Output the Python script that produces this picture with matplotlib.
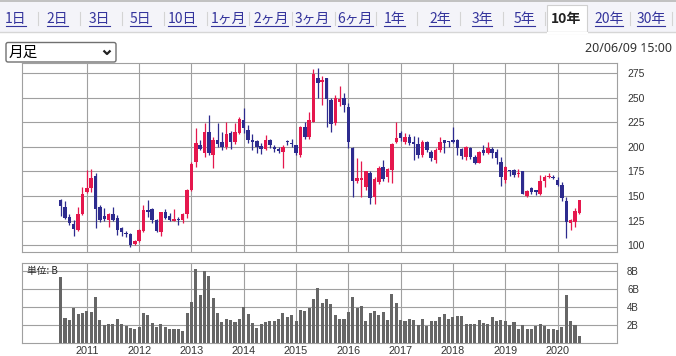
import matplotlib.pyplot as plt
from matplotlib.patches import Rectangle, FancyBboxPatch
import pandas as pd

# ====== data (monthly, 2010-07 .. 2020-06) ======
START_MONTH = "2010-07"

opens = [146, 139, 129, 121, 115, 131.5, 154, 158, 170, 139,
         129.5, 126, 132, 128, 117.5, 112.5, 111, 101, 104.5, 114,
         135.5, 137, 126, 113.5, 134, 129.5, 125, 126.5, 125.5, 131.5,
         156.5, 185, 201.5, 193.5, 215.5, 191.5, 207, 205, 199.5, 214,
         205, 214.5, 227, 217, 207, 206, 201, 198, 207.5, 200,
         197.5, 195, 206.5, 203.5, 201.5, 191.5, 220.5, 210, 225.5, 270,
         266.5, 270, 248, 224.5, 246, 249.5, 241, 198.5, 165.5, 166,
         159.5, 173, 148.5, 164.5, 180, 169.5, 176.5, 205, 214, 205,
         210, 204.5, 203, 191.5, 204.5, 195, 186.5, 197, 207, 206,
         207.5, 207.5, 197.5, 190, 198.5, 190, 184, 197, 194, 197.5,
         195, 185, 166.5, 176.5, 176.5, 172.5, 175, 150, 158, 156,
         152.5, 165.5, 169, 169.5, 166, 161, 145, 122, 123, 132.5]
highs = [146.5, 144.5, 132, 125.5, 139, 159, 176.5, 177.5, 173, 140.5,
         137.5, 132.5, 139, 130.5, 118.5, 114.5, 112, 105, 116, 140.5,
         146, 137.5, 127, 134, 136.5, 132.5, 136.5, 129, 133, 157.5,
         185, 219, 207, 224, 232.5, 210.5, 224, 215.5, 225.5, 216.5,
         224, 230, 239.5, 222.5, 213, 207, 203.5, 212, 208.5, 202,
         199.5, 202, 207.5, 208.5, 202, 221.5, 225.5, 236, 279, 280,
         272.5, 270.5, 249.5, 253, 262.5, 254.5, 244.5, 199.5, 188.5, 185.5,
         175.5, 175.5, 169.5, 180.5, 186.5, 178, 203.5, 225.5, 216, 214.5,
         213, 211, 210.5, 207.5, 206.5, 197, 198.5, 210, 207.5, 206.5,
         220.5, 208.5, 198.5, 200.5, 199.5, 191.5, 196, 202, 204.5, 200,
         197.5, 190, 180.5, 176.5, 177, 177, 175, 156, 159.5, 156,
         171.5, 171.5, 173, 171, 169.5, 164.5, 148.5, 127, 137.5, 146]
lows = [129.5, 127, 120, 109.5, 114.5, 130.5, 153.5, 154, 117, 123,
        125, 118.5, 124, 110, 109, 108.5, 97.5, 100, 103.5, 113,
        129, 122, 113.5, 109, 127, 124, 124, 120.5, 122, 128,
        155, 180, 197, 190, 191.5, 179, 200, 197, 197.5, 198,
        203, 213, 214, 204, 197, 194, 193, 197, 199, 195,
        193.5, 178, 202, 200, 192, 190, 208, 208, 225, 249.5,
        242.5, 220.5, 215, 222, 242, 236, 198.5, 148.5, 163, 148.5,
        156, 142, 141.5, 162, 165, 164.5, 163, 203.5, 206, 203,
        202, 186.5, 189, 190, 195, 186, 184, 195, 194, 199.5,
        204, 191.5, 187.5, 186.5, 187.5, 183, 183.5, 192, 193, 188.5,
        183, 160, 163, 170.5, 169, 169.5, 152, 149, 152, 151,
        151, 159, 168, 167, 160, 145, 107, 115.5, 118, 132]
closes = [140, 128, 122, 116, 132, 152.5, 158, 168, 137, 126,
          126.5, 132, 126, 115, 113.5, 111, 100, 104, 115, 135.5,
          133.5, 125.5, 114.5, 133.5, 128, 125.5, 126.5, 125.5, 131.5, 156.5,
          182.5, 203.5, 198, 215.5, 194, 207, 203, 199.5, 213, 204.5,
          215.5, 228.5, 219, 207.5, 204.5, 199.5, 197.5, 207.5, 201.5, 197.5,
          195.5, 199.5, 205, 202.5, 193.5, 220, 210, 227.5, 274.5, 265,
          268, 248.5, 223, 249.5, 249, 243, 205.5, 165.5, 168, 168,
          175, 147.5, 167.5, 179, 167.5, 177, 203, 209.5, 209.5, 210,
          203.5, 203, 191.5, 205.5, 196.5, 188.5, 197, 205.5, 204, 205,
          204.5, 198.5, 190.5, 199.5, 190, 184, 195, 194, 198.5, 193.5,
          188.5, 169.5, 179.5, 175, 171, 173.5, 152.5, 155.5, 154, 154.5,
          165.5, 169.5, 170.5, 168, 161, 147.5, 123, 125.5, 135, 146]
volumes = [7.3, 2.75, 2.5, 3.9, 3.2, 3.3, 3.5, 3.4, 5.1, 2.6,
           2.0, 2.1, 2.1, 2.7, 2.1, 1.9, 1.7, 1.55, 1.8, 3.3,
           3.1, 2.2, 1.8, 2.1, 1.8, 1.5, 1.5, 1.6, 1.3, 3.3,
           4.6, 8.2, 5.3, 8.0, 7.4, 5.0, 3.3, 2.3, 2.7, 2.6,
           2.3, 2.7, 4.0, 3.2, 2.2, 1.7, 2.1, 2.3, 2.4, 2.4,
           2.7, 3.3, 2.85, 3.1, 2.4, 3.7, 3.6, 3.85, 4.85, 6.1,
           4.4, 4.85, 4.3, 3.1, 2.7, 2.7, 3.4, 5.1, 3.9, 4.1,
           2.4, 3.3, 3.5, 3.1, 3.4, 2.6, 5.4, 4.4, 2.6, 2.4,
           2.7, 2.5, 2.0, 2.7, 1.9, 2.4, 2.4, 2.85, 3.2, 2.7,
           2.85, 3.0, 3.0, 2.1, 2.1, 2.1, 2.5, 2.2, 2.1, 2.85,
           2.4, 2.6, 2.4, 2.0, 2.3, 1.5, 2.0, 1.6, 1.5, 1.85,
           2.1, 1.85, 1.5, 1.6, 1.4, 1.75, 5.3, 2.4, 2.0, 0.8]

price_ticks = [100, 125, 150, 175, 200, 225, 250, 275]
volume_ticks = [2, 4, 6, 8]
volume_labels = ["2B", "4B", "6B", "8B"]

tab_labels = ["1日", "2日", "3日", "5日", "10日", "1ヶ月", "2ヶ月", "3ヶ月",
              "6ヶ月", "1年", "2年", "3年", "5年", "10年", "20年", "30年"]
selected_tab = "10年"
period_label = "月足"
timestamp = "20/06/09 15:00"
unit_label = "単位: B"

# ====== layout (pixels) ======
W, H = 676, 356
TAB_X = [16, 57.6, 99.7, 140.8, 182, 228, 270.8, 312.8, 355.3,
         394.3, 439.8, 482.2, 524.3, 566.5, 608.8, 651.2]
SEP_X = [38, 80, 122, 164, 206.7, 249, 291.6, 334.5, 376, 417,
         460, 502.6, 545, 630.4, 671.6]

RED = "#e5174d"
BLUE = "#2d2b8e"
GRID = "#a0a0a0"
LINK = "#34349c"
CJK = ["Noto Sans CJK JP", "DejaVu Sans"]

plt.rcParams["font.family"] = ["Liberation Sans", "Noto Sans CJK JP"]


def frac(left, top, width, height):
    return [left / W, 1 - (top + height) / H, width / W, height / H]


fig = plt.figure(figsize=(W / 100, H / 100), dpi=100)

# background layer in pixel coordinates
bg = fig.add_axes([0, 0, 1, 1], zorder=-1)
bg.set_xlim(0, W)
bg.set_ylim(H, 0)
bg.axis("off")

bg.add_patch(Rectangle((0, 0), W, 32, fc="#f4f4f9", ec="none"))
bg.plot([0, W], [0.6, 0.6], color="#b8b8b8", lw=1.2)
bg.plot([0, W], [32, 32], color="#d6d6d6", lw=1)
sel = tab_labels.index(selected_tab)
bg.add_patch(Rectangle((TAB_X[sel] - 19.5, 5), 40, 28, fc="white",
                       ec="#d0d0d0", lw=0.8))
bg.plot([TAB_X[sel] - 19, TAB_X[sel] + 20], [32.6, 32.6], color="white", lw=1.5)

for sx in SEP_X:
    bg.plot([sx, sx], [12, 25], color="#d4d4d4", lw=0.8)

tab_texts = []
for label, tx in zip(tab_labels, TAB_X):
    if label == selected_tab:
        bg.text(tx, 18.5, label, ha="center", va="center", fontsize=10,
                color="#222222", fontweight="bold", family=CJK)
    else:
        t = bg.text(tx, 18.5, label, ha="center", va="center", fontsize=10,
                    color=LINK, family=CJK)
        tab_texts.append(t)

# underline links
renderer = fig.canvas.get_renderer()
for t in tab_texts:
    bb = t.get_window_extent(renderer=renderer)
    bg.plot([bb.x0 + 0.5, bb.x1 - 0.5], [25.5, 25.5], color=LINK, lw=0.8)

# dropdown
bg.add_patch(FancyBboxPatch((6, 42.5), 110, 19.5, boxstyle="round,pad=0,rounding_size=2",
                            fc="white", ec="#707070", lw=1))
bg.text(9, 52.5, period_label, ha="left", va="center", fontsize=10.5,
        color="black", family=CJK)
bg.plot([103.5, 107, 110.5], [50.5, 54, 50.5], color="#222222", lw=1.6,
        solid_capstyle="butt")

bg.text(672, 48.5, timestamp, ha="right", va="center", fontsize=9,
        color="#333333", family="Noto Sans")

# ====== price chart ======
months = pd.period_range(START_MONTH, periods=len(closes), freq="M")
idx = list(range(len(months)))
year_idx = [i for i, p in enumerate(months) if p.month == 1]
year_lbl = [str(months[i].year) for i in year_idx]
XLIM = (-8.8, 127.7)

ax = fig.add_axes(frac(22.3, 62.7, 595, 189.6))
colors = [RED if c >= o else BLUE for o, c in zip(opens, closes)]
ax.vlines(idx, lows, highs, colors=colors, lw=0.9, zorder=3)
bodies = [max(abs(c - o), 1.0) for o, c in zip(opens, closes)]
bottoms = [min(o, c) for o, c in zip(opens, closes)]
ax.bar(idx, bodies, bottom=bottoms, width=0.8, color=colors, zorder=4)

ax.set_xlim(*XLIM)
ax.set_ylim(92.6, 285.8)
ax.set_xticks(year_idx)
ax.set_yticks(price_ticks)
ax.yaxis.tick_right()
ax.tick_params(length=0, labelbottom=False, labelsize=7.5, pad=7,
               labelcolor="#333333")
ax.grid(True, color=GRID, lw=0.8)
ax.set_axisbelow(True)
for s in ax.spines.values():
    s.set_color(GRID)
    s.set_linewidth(0.8)

# ====== volume chart ======
vax = fig.add_axes(frac(22.3, 263.3, 595, 79.4))
vax.bar(idx, volumes, width=0.7, color="#666666", zorder=3)
vax.set_xlim(*XLIM)
vax.set_ylim(0.03, 8.86)
vax.set_xticks(year_idx)
vax.set_xticklabels(year_lbl)
vax.set_yticks(volume_ticks)
vax.set_yticklabels(volume_labels)
vax.yaxis.tick_right()
vax.tick_params(axis="y", length=0, labelsize=7, pad=7, labelcolor="#333333")
vax.tick_params(axis="x", length=0, labelsize=7.8, pad=2.5, labelcolor="#333333")
vax.grid(True, color=GRID, lw=0.8)
vax.set_axisbelow(True)
for s in vax.spines.values():
    s.set_color(GRID)
    s.set_linewidth(0.8)
vax.text(0.008, 0.9, unit_label, transform=vax.transAxes, ha="left",
         va="center", fontsize=7, color="#222222", family=CJK, zorder=5)

fig.savefig("out.png", dpi=100)
